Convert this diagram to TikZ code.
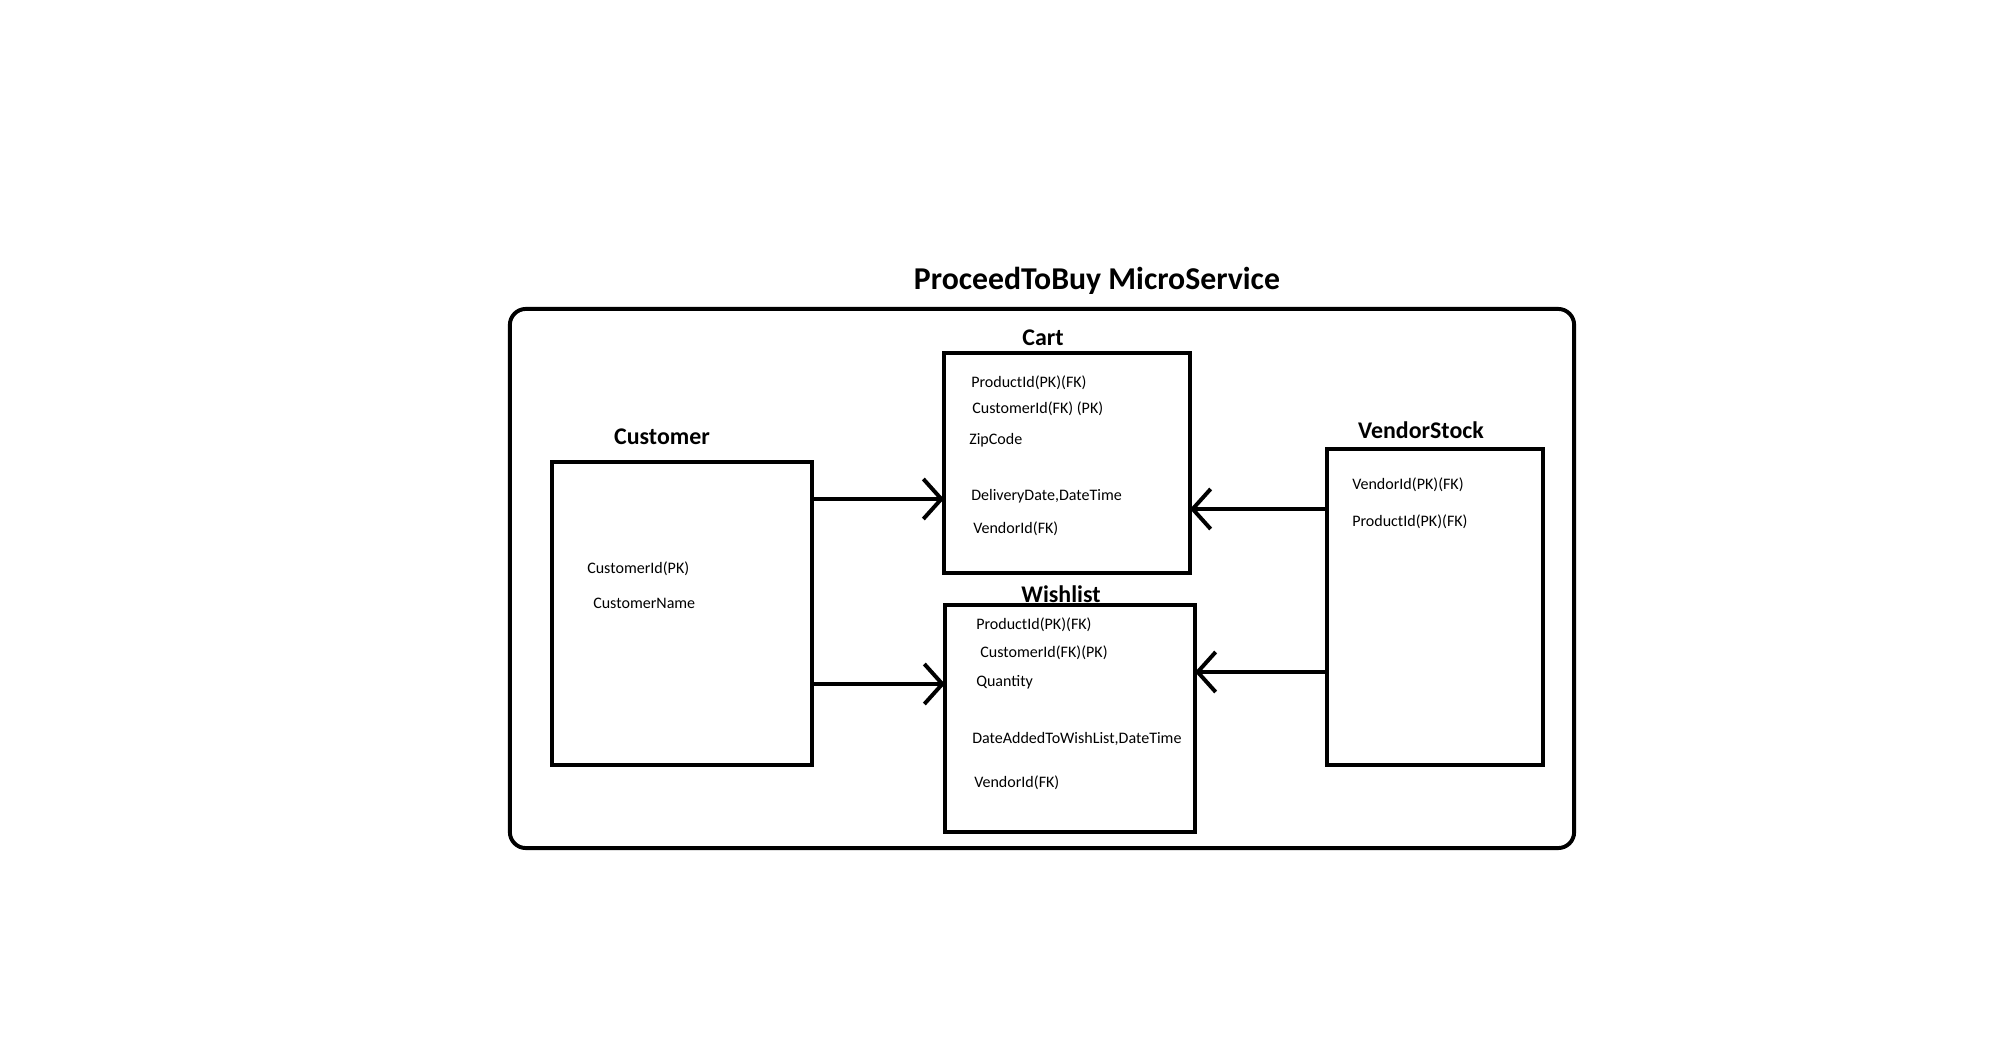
\documentclass[tikz,border=0pt]{standalone}
\usepackage{fontspec}
\setmainfont{Carlito}
\usetikzlibrary{arrows.meta}

\begin{document}
\begin{tikzpicture}[x=0.025cm, y=-0.025cm,
    service/.style={draw, line width=2.8pt, rounded corners=0.4cm},
    entity/.style={draw, line width=2.8pt, inner sep=0pt},
    entityname/.style={font=\fontsize{17}{20}\selectfont\bfseries},
    field/.style={anchor=west, inner sep=0pt, font=\fontsize{11.4}{13}\selectfont},
    link/.style={line width=2.8pt, -{Straight Barb[length=0.45cm, width=1.0cm, line width=2.8pt]}}]
    \useasboundingbox (0, 0) rectangle (2000, 1045);

    % Microservice
    \node[font=\fontsize{22.6}{27}\selectfont\bfseries] (heading) at (1097, 281) {ProceedToBuy MicroService};
    \node[service, minimum width=26.6cm, minimum height=13.475cm] (outer) at (1042, 578.5) {};

    % Tables
    \node[entity, minimum width=6.5cm, minimum height=7.575cm] (customer) at (682, 613.5) {};
    \node[entity, minimum width=6.15cm, minimum height=5.5cm] (cart) at (1067, 463) {};
    \node[entity, minimum width=6.25cm, minimum height=5.675cm] (wishlist) at (1070, 718.5) {};
    \node[entity, minimum width=5.4cm, minimum height=7.9cm] (vendor) at (1435, 607) {};

    \node[entityname] (customername) at (662, 437) {Customer};
    \node[entityname] (cartname) at (1043, 338) {Cart};
    \node[entityname] (wishlistname) at (1061, 594) {Wishlist};
    \node[entityname] (vendorname) at (1421, 430) {VendorStock};

    % Fields
    \node[field] (cu1) at (587, 569) {CustomerId(PK)};
    \node[field] (cu2) at (593, 603) {CustomerName};

    \node[field] (ca1) at (971, 383) {ProductId(PK)(FK)};
    \node[field] (ca2) at (972, 409) {CustomerId(FK) (PK)};
    \node[field] (ca3) at (969, 440) {ZipCode};
    \node[field] (ca4) at (971, 496) {DeliveryDate,DateTime};
    \node[field] (ca5) at (973, 529) {VendorId(FK)};

    \node[field] (wi1) at (976, 625) {ProductId(PK)(FK)};
    \node[field] (wi2) at (980, 653) {CustomerId(FK)(PK)};
    \node[field] (wi3) at (976, 682) {Quantity};
    \node[field] (wi4) at (972, 739) {DateAddedToWishList,DateTime};
    \node[field] (wi5) at (974, 783) {VendorId(FK)};

    \node[field] (ve1) at (1352, 485) {VendorId(PK)(FK)};
    \node[field] (ve2) at (1352, 522) {ProductId(PK)(FK)};

    % Links
    \coordinate (cartin) at (944, 499);
    \coordinate (wishin) at (945, 684);
    \coordinate (cartback) at (1190, 509);
    \coordinate (wishback) at (1195, 672);
    \draw[link] (customer.east |- cartin) -- (cartin);
    \draw[link] (customer.east |- wishin) -- (wishin);
    \draw[link] (vendor.west |- cartback) -- (cartback);
    \draw[link] (vendor.west |- wishback) -- (wishback);
\end{tikzpicture}
\end{document}
